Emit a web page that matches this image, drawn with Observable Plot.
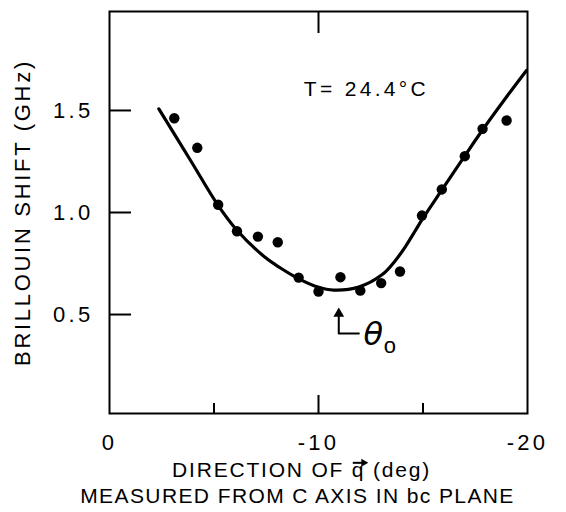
<!DOCTYPE html>
<html><head><meta charset="utf-8">
<script src="https://cdn.jsdelivr.net/npm/d3@7"></script>
<script src="https://cdn.jsdelivr.net/npm/@observablehq/plot@0.6"></script>
<style>body{margin:0;background:#fff} svg{display:block}</style>
</head><body><div id="chart"></div>
<script>
// measured points
const pointX = [-3.1, -4.2, -5.2, -6.1, -7.1, -8.05, -9.05, -10.0, -11.05, -12.0, -13.0, -13.9, -14.95, -15.9, -17.0, -17.85, -19.0];
const pointY = [1.462, 1.317, 1.038, 0.908, 0.882, 0.854, 0.681, 0.613, 0.683, 0.617, 0.654, 0.711, 0.985, 1.113, 1.276, 1.41, 1.451];
// fitted curve
const curveX = [-2.36, -3.88, -5.17, -6.11, -7.46, -8.18, -9.06, -9.97, -10.72, -11.93, -13.05, -13.68, -14.16, -14.64, -14.96, -15.92, -16.95, -17.83, -18.87, -19.95];
const curveY = [1.508, 1.255, 1.039, 0.912, 0.779, 0.728, 0.675, 0.635, 0.620, 0.635, 0.696, 0.765, 0.833, 0.912, 0.966, 1.113, 1.270, 1.402, 1.549, 1.696];
// axes
const xDomain = [0, -20];
const yDomain = [0.015, 1.985];
const xTicks = [0, -10, -20];
const xMinorTicks = [-5, -15];
const xMidTicks = [-10];
const yTicks = [0.5, 1.0, 1.5];
const yLabel = "BRILLOUIN SHIFT (GHz)";
const xLabelLines = ["DIRECTION OF q (deg)", "MEASURED FROM C AXIS IN bc PLANE"];
// annotations
const tempLabel = ["T= 24.4°C"];
const tempPos = [-9.3, 1.603];
const thetaArrowX = [-10.97, -10.97, -11.93];
const thetaArrowY = [0.51, 0.407, 0.407];
const thetaTip = [-10.97, 0.504];
const thetaText = ["θ", "o"];
const thetaTextX = [-12.62, -13.42];
const thetaTextY = [0.40, 0.345];

const points = pointX.map((x, i) => ({x, y: pointY[i]}));
const curve = curveX.map((x, i) => ({x, y: curveY[i]}));
const arrowPath = thetaArrowX.map((x, i) => ({x, y: thetaArrowY[i]}));

const W = 566, H = 512, mL = 109, mR = 39, mT = 11, mB = 99;
const fw = W - mL - mR, fh = H - mT - mB;
const FONT = "'Liberation Sans', Arial, sans-serif";

const plot = Plot.plot({
  width: W, height: H,
  marginLeft: mL, marginRight: mR, marginTop: mT, marginBottom: mB,
  style: {fontFamily: FONT, fontSize: "21px", color: "#000", background: "#fff"},
  x: {domain: xDomain, ticks: xTicks, tickSize: 0, tickPadding: 21, tickFormat: d => String(d), label: null},
  y: {domain: yDomain, ticks: yTicks, tickSize: 0, tickPadding: 16, tickFormat: d => d.toFixed(1), label: null},
  marks: [
    Plot.frame({stroke: "#000", strokeWidth: 2}),
    Plot.tickY(yTicks, {y: d => d, insetRight: fw - 22, stroke: "#000", strokeWidth: 2}),
    Plot.tickX(xMinorTicks, {x: d => d, insetTop: fh - 10, stroke: "#000", strokeWidth: 2}),
    Plot.tickX(xMidTicks, {x: d => d, insetTop: fh - 18, stroke: "#000", strokeWidth: 2}),
    Plot.tickX(xMidTicks, {x: d => d, insetBottom: fh - 22, stroke: "#000", strokeWidth: 2}),
    Plot.line(curve, {x: "x", y: "y", curve: "catmull-rom", stroke: "#000", strokeWidth: 3.2}),
    Plot.dot(points, {x: "x", y: "y", r: 5.2, fill: "#000", stroke: "none"}),
    Plot.line(arrowPath, {x: "x", y: "y", stroke: "#000", strokeWidth: 2}),
    Plot.dot([thetaTip], {x: d => d[0], y: d => d[1], symbol: "triangle", r: 4, fill: "#000", stroke: "none"}),
    Plot.text(tempLabel, {x: tempPos[0], y: tempPos[1], textAnchor: "start", lineAnchor: "middle", fontSize: 21, fill: "#000"}),
    Plot.text([thetaText[0]], {x: thetaTextX[0], y: thetaTextY[0], fontSize: 32, fontStyle: "italic", fontFamily: "'DejaVu Sans', sans-serif", fill: "#000"}),
    Plot.text([thetaText[1]], {x: thetaTextX[1], y: thetaTextY[1], fontSize: 22, fill: "#000"}),
    Plot.text([yLabel], {frameAnchor: "left", dx: -87, rotate: -90, textAnchor: "middle", lineAnchor: "middle", fontSize: 22, fill: "#000"}),
    Plot.text([xLabelLines[0]], {frameAnchor: "bottom", dy: 57, dx: -17, textAnchor: "middle", lineAnchor: "middle", fontSize: 21, fill: "#000"}),
    Plot.text([xLabelLines[1]], {frameAnchor: "bottom", dy: 83, dx: -21, textAnchor: "middle", lineAnchor: "middle", fontSize: 21, fill: "#000"})
  ]
});

const spacing = {
  [yLabel]: 2.7,
  [xLabelLines[0]]: 1.8,
  [xLabelLines[1]]: 1.4,
  [tempLabel[0]]: 3.3
};
d3.select(plot).selectAll("text").each(function() {
  const t = this.textContent;
  if (spacing[t] != null) this.setAttribute("letter-spacing", spacing[t]);
});
d3.select(plot).selectAll("g[aria-label='y-axis tick label'] text, g[aria-label='x-axis tick label'] text")
  .attr("letter-spacing", 3.3).attr("font-size", 22);
document.getElementById("chart").append(plot);

// vector arrow over "q" in the x label
const qText = d3.select(plot).selectAll("text").filter(function() { return this.textContent === xLabelLines[0]; }).node();
if (qText && qText.getExtentOfChar) {
  try {
    const idx = xLabelLines[0].indexOf("q");
    const e = qText.getExtentOfChar(idx);
    const x0 = e.x + 1, x1 = e.x + e.width + 3;
    const yA = e.y + e.height * 0.2;
    const g = d3.select(qText.parentNode).append("g")
      .attr("transform", qText.getAttribute("transform") || null);
    g.append("path").attr("d", `M${x0},${yA}H${x1 - 5}`).attr("stroke", "#000").attr("stroke-width", 2).attr("fill", "none");
    g.append("path").attr("d", `M${x1},${yA}L${x1 - 7},${yA - 4}L${x1 - 7},${yA + 4}Z`).attr("fill", "#000");
  } catch (err) {}
}
</script>
</body></html>
